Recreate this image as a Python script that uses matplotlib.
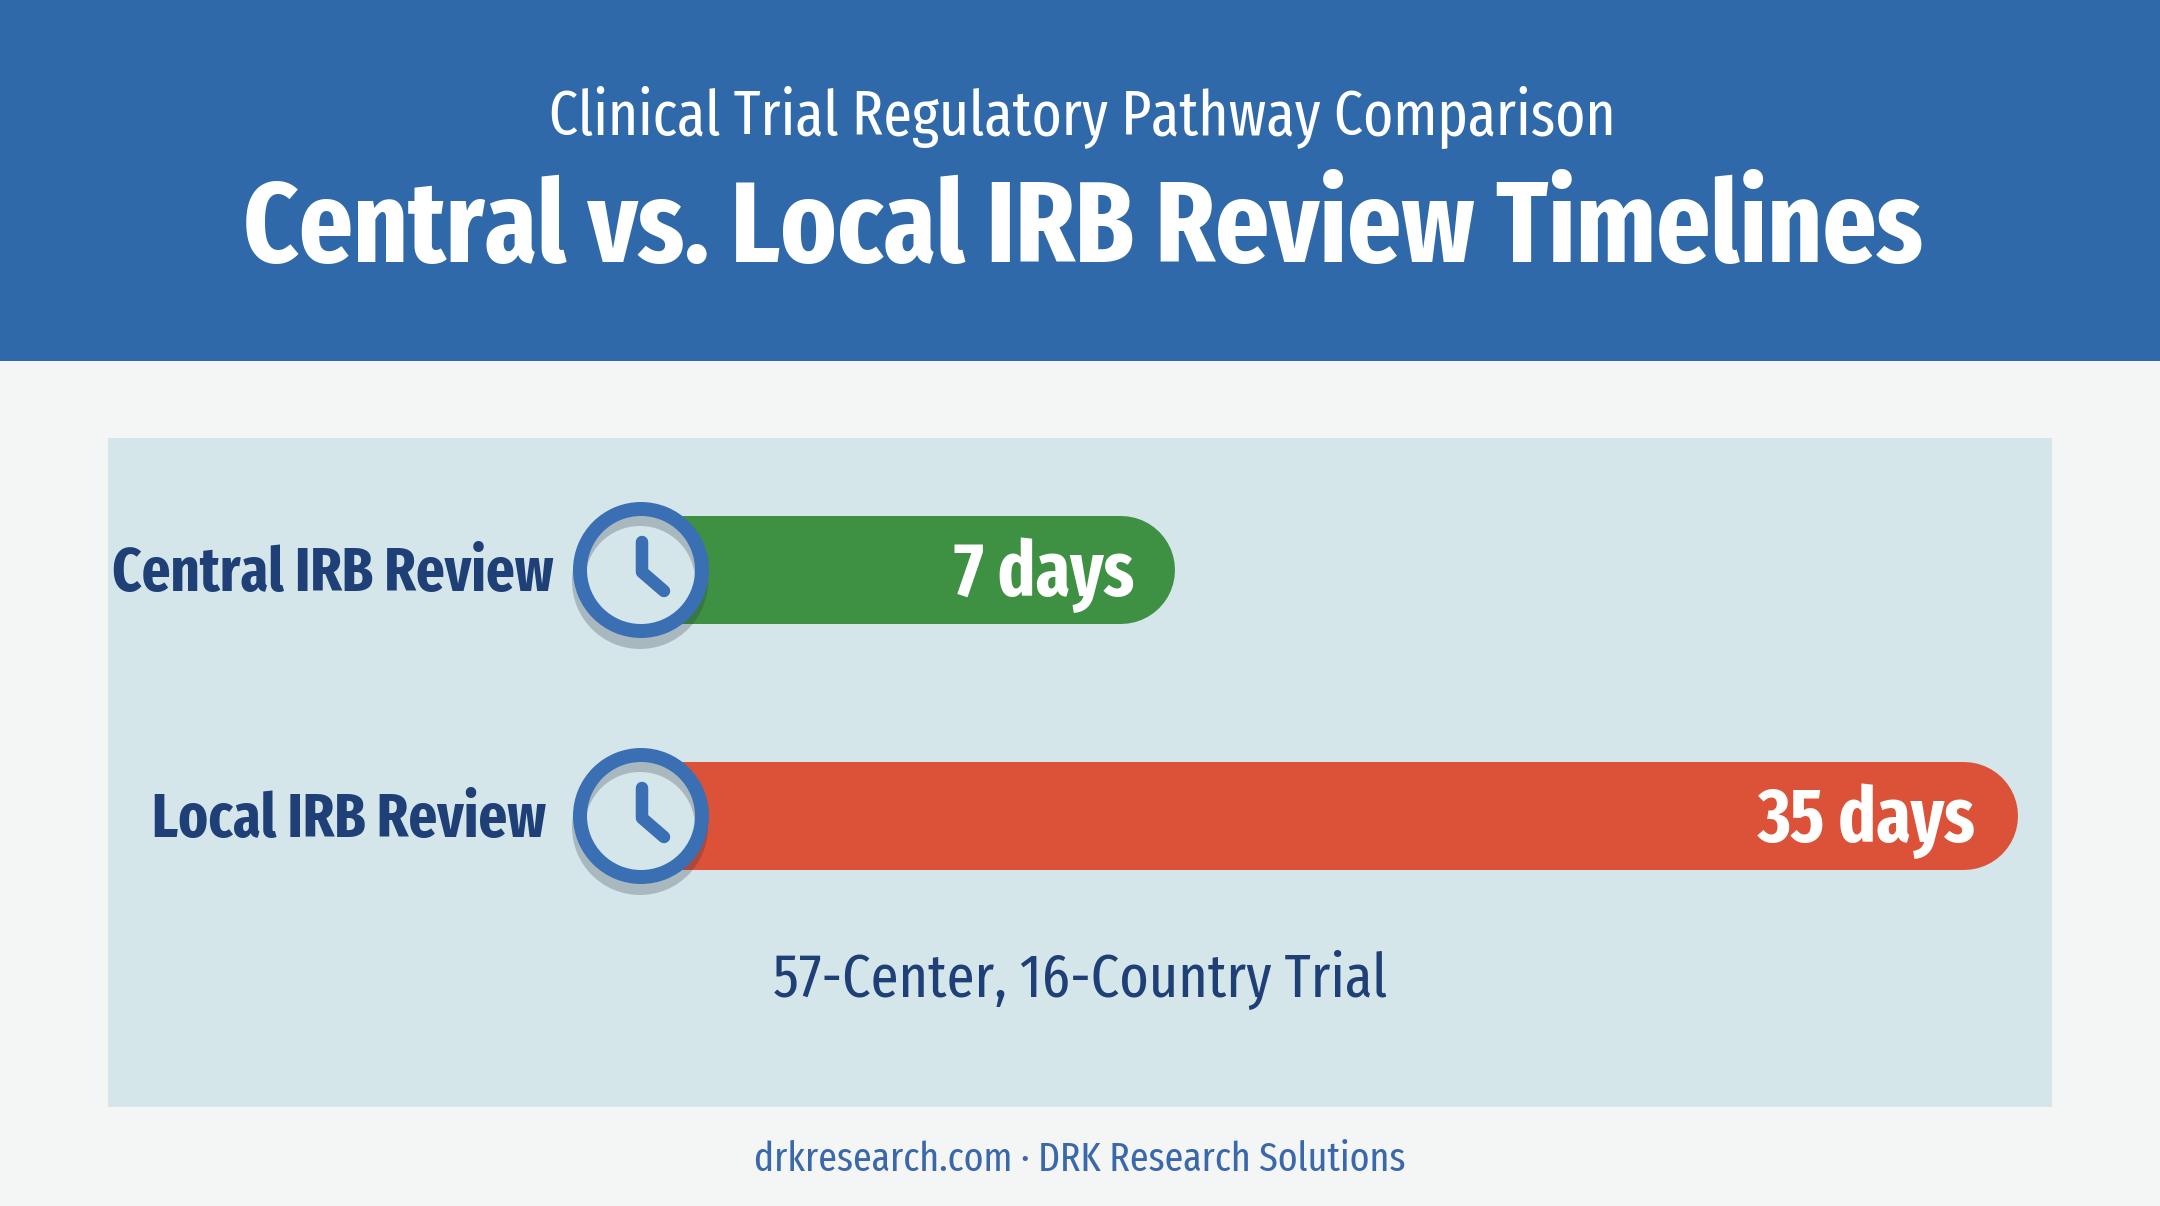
import matplotlib
matplotlib.use("Agg")
import matplotlib.pyplot as plt
from matplotlib.patches import Rectangle, Circle, Wedge

#data
categories = ["Central IRB Review", "Local IRB Review"]
days = [7, 35]
value_labels = ["7 days", "35 days"]
bar_colors = ["#3E9142", "#DB5238"]

plt.rcParams["font.family"] = ["Fira Sans Extra Condensed", "Fira Sans Condensed", "Liberation Sans Narrow", "Liberation Sans", "DejaVu Sans"]

W, H = 2160, 1206
fig = plt.figure(figsize=(W / 100, H / 100), dpi=100, facecolor="#F4F6F6")

#page axes in pixels
page = fig.add_axes([0, 0, 1, 1])
page.set_xlim(0, W)
page.set_ylim(H, 0)
page.axis("off")
page.add_patch(Rectangle((0, 0), W, 361, fc="#2F69AA", ec="none"))
page.add_patch(Rectangle((108, 438), 1944, 669, fc="#D5E6EB", ec="none"))

#bars: linear day axis, line ends + round cap reach the bar tip
px_per_day = (1963.5 - 1120.5) / (35 - 7)
x_left = 7 - 1120.5 / px_per_day
bars = fig.add_axes([0, 0, 1, 1])
bars.set_xlim(x_left, x_left + W / px_per_day)
bars.set_ylim(H, 0)
bars.axis("off")
bars.patch.set_alpha(0)
row_y = [570, 816]
bar_start = -7.5
for i in range(len(days)):
    bars.plot([bar_start, days[i]], [row_y[i], row_y[i]], color=bar_colors[i],
              lw=108 * 72 / 100, solid_capstyle="round")

#clocks on top of the bars
top = fig.add_axes([0, 0, 1, 1])
top.set_xlim(0, W)
top.set_ylim(H, 0)
top.axis("off")
top.patch.set_alpha(0)
cx = 641
for y in row_y:
    top.add_patch(Circle((cx, y), 58, fc="#D5E6EB", ec="none"))
    top.add_patch(Wedge((cx - 1, y + 11), 68, 0, 360, width=13, fc="#26323F", alpha=0.25, ec="none"))
    top.add_patch(Wedge((cx, y), 68, 0, 360, width=14, fc="#3A6FB3", ec="none"))
    top.plot([cx + 1, cx + 1, cx + 23], [y - 28, y + 2, y + 21], color="#3A6FB3", lw=9,
             solid_capstyle="round", solid_joinstyle="round")

#header
top.text(1082, 135, "Clinical Trial Regulatory Pathway Comparison", color="white", fontsize=45,
         ha="center", va="baseline")
top.text(1083, 262, "Central vs. Local IRB Review Timelines", color="white", fontsize=83,
         fontweight="bold", ha="center", va="baseline")

#row labels and values
label_right = [554, 546]
value_right = [1134, 1975]
for i in range(len(categories)):
    top.text(label_right[i], row_y[i] + 21, categories[i], color="#1F3F77", fontsize=44, fontweight="bold",
             ha="right", va="baseline")
    top.text(value_right[i], row_y[i] + 26, value_labels[i], color="white", fontsize=54.5, fontweight="bold",
             ha="right", va="baseline")

#notes
top.text(1080, 997, "57-Center, 16-Country Trial", color="#1F3F77", fontsize=44, ha="center", va="baseline")
top.text(1080, 1171, "drkresearch.com · DRK Research Solutions", color="#3A68AA", fontsize=29.5,
         ha="center", va="baseline")

fig.savefig("out.png", dpi=100, facecolor=fig.get_facecolor())
